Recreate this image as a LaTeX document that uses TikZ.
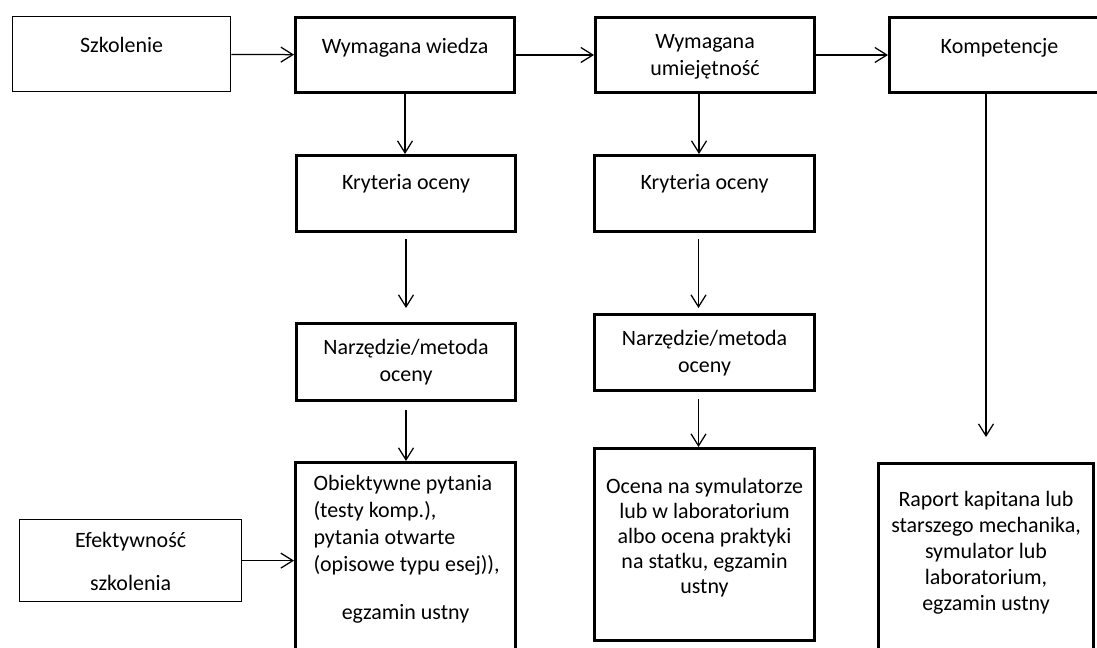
\documentclass[tikz,border=0pt]{standalone}
\usepackage{fontspec}
\setmainfont{Carlito}
\usetikzlibrary{arrows.meta}

\newdimen\px \px=0.02cm
% width, height, first baseline, line skip, text
\newcommand{\boxtxt}[5]{\parbox[c][#2][t]{#1}{\centering\baselineskip=#4\relax\rule{0pt}{#3}#5}}

\begin{document}
\begin{tikzpicture}[x=0.02cm, y=-0.02cm,
    font=\fontsize{12.5}{15}\selectfont,
    box/.style={draw, line width=0.06cm, anchor=north west, inner sep=0pt},
    thinbox/.style={box, line width=0.025cm},
    arr/.style={line width=0.025cm, -{Straight Barb[length=0.24cm, width=0.3cm]}}]

    \useasboundingbox (0,0) rectangle (1097,648);
    \clip (0,0) rectangle (1097,648);

    \node[thinbox] (szk) at (12,16) {\boxtxt{218\px}{75\px}{36\px}{27\px}{Szkolenie}};
    \node[box] (ww) at (294,16) {\boxtxt{219\px}{75\px}{36\px}{27\px}{Wymagana wiedza}};
    \node[box] (wu) at (594,16) {\boxtxt{219\px}{75\px}{31\px}{27\px}{Wymagana\\ umiejętność}};
    \node[box] (komp) at (888,16) {\boxtxt{220\px}{75\px}{36\px}{27\px}{Kompetencje}};

    \node[box] (kr1) at (295,154) {\boxtxt{219\px}{76\px}{34\px}{27\px}{Kryteria oceny}};
    \node[box] (kr2) at (593,154) {\boxtxt{220\px}{76\px}{34\px}{27\px}{Kryteria oceny}};

    \node[box] (nm1) at (295,322) {\boxtxt{219\px}{77\px}{31\px}{27\px}{Narzędzie/metoda\\ oceny}};
    \node[box] (nm2) at (593,313) {\boxtxt{220\px}{76\px}{31\px}{27\px}{Narzędzie/metoda\\ oceny}};

    \node[box] (ob) at (294,461) {\parbox[c][200\px][t]{220\px}{\raggedright\leftskip=18\px
        \baselineskip=27\px\relax
        \rule{0pt}{28\px}Obiektywne pytania\\ (testy komp.),\\ pytania otwarte\\ (opisowe typu esej)),\par
        \vspace{21\px}\centering egzamin ustny}};
    \node[box] (oc) at (593,447) {\boxtxt{220\px}{192\px}{45\px}{25\px}{Ocena na symulatorze\\ lub w laboratorium\\ albo ocena praktyki\\ na statku, egzamin\\ ustny}};
    \node[box] (rap) at (877,462) {\boxtxt{215\px}{195\px}{43\px}{26\px}{Raport kapitana lub\\ starszego mechanika,\\ symulator lub\\ laboratorium,\\ egzamin ustny}};

    \node[thinbox] (ef) at (19,519) {\boxtxt{222\px}{82\px}{28\px}{43\px}{Efektywność\\ szkolenia}};

    \draw[arr] (szk) -- (ww);
    \draw[arr] (ww) -- (wu);
    \draw[arr] (wu) -- (komp);

    \draw[arr] (ww.south) -- (ww.south |- kr1.north);
    \draw[arr, shorten <=0.12cm, shorten >=0.28cm] (kr1.south) -- (nm1.north);
    \draw[arr, shorten <=0.16cm] (nm1.south) -- (nm1.south |- ob.north);

    \draw[arr] ([xshift=-0.12cm]wu.south) -- ([xshift=-0.12cm]wu.south |- kr2.north);
    \draw[arr, shorten <=0.12cm, shorten >=0.1cm] ([xshift=-0.12cm]kr2.south) -- ([xshift=-0.12cm]nm2.north);
    \draw[arr, shorten <=0.14cm] ([xshift=-0.12cm]nm2.south) -- ([xshift=-0.12cm]oc.north);

    \draw[arr, shorten >=0.5cm] (komp.south -| rap.north) -- (rap.north);
    \draw[arr] (ef) -- (ef -| ob.west);

\end{tikzpicture}
\end{document}
